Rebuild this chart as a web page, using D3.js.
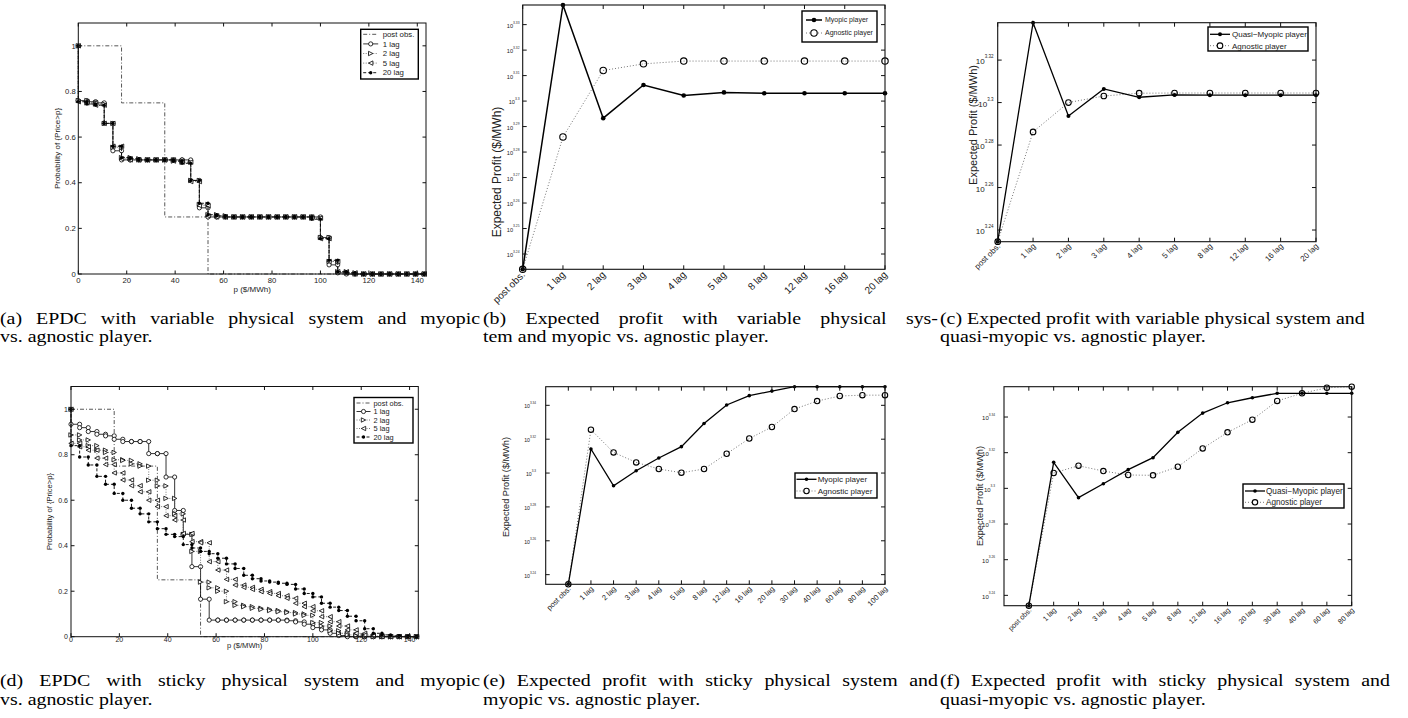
<!DOCTYPE html>
<html>
<head>
<meta charset="utf-8">
<script src="https://cdn.jsdelivr.net/npm/d3@7"></script>
<style>
  body { margin: 0; background: #fff; }
  svg text { font-family: "Liberation Sans", Arial, sans-serif; fill: #222; }
  svg text.cap { font-family: "Liberation Serif", "Times New Roman", serif; fill: #000; }
</style>
</head>
<body>
<svg id="fig" width="1408" height="718"></svg>
<script>
// ---------- data ----------

// price grid of the EPDC curves ($/MWh)
var priceGrid = [0, 3.57, 7.14, 10.71, 14.29, 17.86, 21.43, 25, 28.57, 32.14,
    35.71, 39.29, 42.86, 46.43, 50, 53.57, 57.14, 60.71, 64.29, 67.86,
    71.43, 75, 78.57, 82.14, 85.71, 89.29, 92.86, 96.43, 100, 103.57,
    107.14, 110.71, 114.29, 117.86, 121.43, 125, 128.57, 132.14, 135.71, 139.29,
    142.86];

// P(Price > p), same post-observation curve in (a) and (d)
var postObs = [1, 1, 1, 1, 1, 0.75, 0.75, 0.75, 0.75, 0.75,
    0.25, 0.25, 0.25, 0.25, 0.25, 0, 0, 0, 0, 0,
    0, 0, 0, 0, 0, 0, 0, 0, 0, 0,
    0, 0, 0, 0, 0, 0, 0, 0, 0, 0, 0];

// (a) variable physical system
var lag1A = [0.76, 0.755, 0.75, 0.66, 0.54, 0.50, 0.50, 0.50, 0.50, 0.50,
    0.50, 0.50, 0.50, 0.41, 0.29, 0.25, 0.25, 0.25, 0.25, 0.25,
    0.25, 0.25, 0.25, 0.25, 0.25, 0.25, 0.25, 0.25, 0.16, 0.04,
    0.005, 0, 0, 0, 0, 0, 0, 0, 0, 0, 0];
var lag2A = [0.76, 0.75, 0.745, 0.66, 0.555, 0.51, 0.505, 0.50, 0.50, 0.50,
    0.50, 0.495, 0.49, 0.41, 0.305, 0.26, 0.255, 0.25, 0.25, 0.25,
    0.25, 0.25, 0.25, 0.25, 0.25, 0.25, 0.25, 0.245, 0.16, 0.055,
    0.01, 0.005, 0, 0, 0, 0, 0, 0, 0, 0, 0];
var lag5A = [0.755, 0.75, 0.74, 0.66, 0.56, 0.505, 0.50, 0.50, 0.50, 0.50,
    0.50, 0.495, 0.49, 0.405, 0.30, 0.255, 0.25, 0.25, 0.25, 0.25,
    0.25, 0.25, 0.25, 0.25, 0.25, 0.25, 0.25, 0.245, 0.155, 0.055,
    0.01, 0.005, 0, 0, 0, 0, 0, 0, 0, 0, 0];
var lag20A = [0.755, 0.745, 0.74, 0.66, 0.56, 0.51, 0.505, 0.50, 0.50, 0.50,
    0.50, 0.495, 0.485, 0.41, 0.31, 0.26, 0.255, 0.25, 0.25, 0.25,
    0.25, 0.25, 0.25, 0.25, 0.25, 0.25, 0.25, 0.24, 0.155, 0.06,
    0.01, 0.005, 0, 0, 0, 0, 0, 0, 0, 0, 0];

// (d) sticky physical system
var lag1D = [0.934, 0.919, 0.902, 0.89, 0.883, 0.868, 0.858, 0.858, 0.858, 0.805,
    0.805, 0.702, 0.555, 0.45, 0.308, 0.165, 0.073, 0.073, 0.073, 0.073,
    0.073, 0.073, 0.073, 0.073, 0.073, 0.07, 0.065, 0.055, 0.04, 0.03,
    0.015, 0.005, 0, 0, 0, 0, 0, 0, 0, 0, 0];
var lag2D = [0.887, 0.865, 0.84, 0.82, 0.81, 0.778, 0.775, 0.76, 0.75, 0.688,
    0.663, 0.608, 0.54, 0.45, 0.375, 0.24, 0.215, 0.2, 0.154, 0.138,
    0.132, 0.125, 0.12, 0.115, 0.11, 0.106, 0.1, 0.094, 0.062, 0.047,
    0.026, 0.015, 0.008, 0.004, 0.002, 0, 0, 0, 0, 0, 0];
var lag5D = [0.85, 0.835, 0.82, 0.785, 0.757, 0.72, 0.689, 0.664, 0.637, 0.6,
    0.572, 0.532, 0.513, 0.454, 0.418, 0.413, 0.33, 0.293, 0.252, 0.227,
    0.217, 0.208, 0.198, 0.19, 0.18, 0.169, 0.147, 0.132, 0.114, 0.088,
    0.066, 0.047, 0.03, 0.015, 0.007, 0.003, 0, 0, 0, 0, 0];
var lag20D = [0.84, 0.79, 0.755, 0.705, 0.67, 0.63, 0.6, 0.565, 0.54, 0.505,
    0.475, 0.45, 0.44, 0.405, 0.39, 0.375, 0.365, 0.345, 0.32, 0.3,
    0.27, 0.255, 0.245, 0.24, 0.235, 0.23, 0.21, 0.19, 0.175, 0.147,
    0.13, 0.115, 0.09, 0.07, 0.035, 0.015, 0.008, 0.004, 0.002, 0.001, 0];

var epdcXTicks = [0, 20, 40, 60, 80, 100, 120, 140];
var epdcYTicks = [0, 0.2, 0.4, 0.6, 0.8, 1];
var epdcYLabels = ["0", "0.2", "0.4", "0.6", "0.8", "1"];
var epdcLegend = ["post obs.", "1 lag", "2 lag", "5 lag", "20 lag"];

// expected profit, stored as log10 of $/MWh
var catsShort = ["post obs.", "1 lag", "2 lag", "3 lag", "4 lag", "5 lag", "8 lag", "12 lag", "16 lag", "20 lag"];
var catsF = ["post obs.", "1 lag", "2 lag", "3 lag", "4 lag", "5 lag", "8 lag", "12 lag", "16 lag", "20 lag",
    "30 lag", "40 lag", "60 lag", "80 lag"];
var catsE = ["post obs.", "1 lag", "2 lag", "3 lag", "4 lag", "5 lag", "8 lag", "12 lag", "16 lag", "20 lag",
    "30 lag", "40 lag", "60 lag", "80 lag", "100 lag"];

var myopicB = [3.234, 3.3377, 3.2933, 3.3063, 3.3022, 3.3034, 3.3031, 3.3031, 3.3031, 3.3031];
var agnosticB = [3.234, 3.2859, 3.312, 3.3146, 3.3157, 3.3157, 3.3157, 3.3157, 3.3157, 3.3157];

var quasiC = [3.2345, 3.3376, 3.2937, 3.3064, 3.3025, 3.3036, 3.3035, 3.3035, 3.3035, 3.3035];
var agnosticC = [3.2345, 3.2862, 3.30, 3.3031, 3.3044, 3.3045, 3.3045, 3.3045, 3.3045, 3.3045];

var myopicE = [3.2343, 3.3142, 3.2925, 3.3014, 3.3089, 3.3156, 3.3293, 3.3402, 3.3457, 3.3484,
    3.351, 3.351, 3.351, 3.351, 3.351];
var agnosticE = [3.2343, 3.3256, 3.3122, 3.3063, 3.3024, 3.3002, 3.3024, 3.3114, 3.3204, 3.3272,
    3.3378, 3.3425, 3.3455, 3.346, 3.346];

var quasiF = [3.2342, 3.3146, 3.2948, 3.3026, 3.3105, 3.3172, 3.3314, 3.3422, 3.348, 3.3508,
    3.3533, 3.3533, 3.3533, 3.3533];
var agnosticF = [3.2342, 3.3086, 3.3127, 3.3097, 3.3075, 3.3073, 3.3121, 3.3224, 3.3314, 3.3385,
    3.349, 3.3533, 3.3564, 3.357];

var expTicksB = [3.24, 3.25, 3.26, 3.27, 3.28, 3.29, 3.3, 3.31, 3.32, 3.33];
var expTicksC = [3.24, 3.26, 3.28, 3.3, 3.32];
var expTicksEF = [3.24, 3.26, 3.28, 3.3, 3.32, 3.34];

var captions = [
    {x: 0, y: 324, w1: 480, l1: "(a) EPDC with variable physical system and myopic", l2: "vs. agnostic player."},
    {x: 483, y: 324, w1: 455, l1: "(b) Expected profit with variable physical sys-", l2: "tem and myopic vs. agnostic player."},
    {x: 940, y: 324, w1: 0, l1: "(c) Expected profit with variable physical system and", l2: "quasi-myopic vs. agnostic player."},
    {x: 0, y: 686, w1: 480, l1: "(d) EPDC with sticky physical system and myopic", l2: "vs. agnostic player."},
    {x: 483, y: 686, w1: 455, l1: "(e) Expected profit with sticky physical system and", l2: "myopic vs. agnostic player."},
    {x: 940, y: 686, w1: 450, l1: "(f) Expected profit with sticky physical system and", l2: "quasi-myopic vs. agnostic player."}
];

var svg = d3.select("#fig");

// ---------- markers ----------

function drawMarker(g, type, cx, cy, s) {
    if (type == "circle") {
        g.append("circle").attr("cx", cx).attr("cy", cy).attr("r", s)
            .attr("fill", "#fff").attr("stroke", "#000").attr("stroke-width", 0.8);
    } else if (type == "dot") {
        g.append("circle").attr("cx", cx).attr("cy", cy).attr("r", s)
            .attr("fill", "#000");
    } else if (type == "right" || type == "left") {
        var d = type == "right" ? 1 : -1;
        var pts = [[cx - d * s, cy - s], [cx + d * s, cy], [cx - d * s, cy + s]];
        g.append("path").attr("d", "M" + pts.join("L") + "Z")
            .attr("fill", "#fff").attr("stroke", "#000").attr("stroke-width", 0.8);
    }
}

var epdcStyles = [
    {dash: "4,2,1,2", color: "#444", width: 0.9, marker: null},
    {dash: null, color: "#000", width: 0.8, marker: "circle", size: 2.1},
    {dash: "1,1.5", color: "#555", width: 0.8, marker: "right", size: 2.2},
    {dash: "1,1.5", color: "#555", width: 0.8, marker: "left", size: 2.2},
    {dash: "3,2", color: "#000", width: 0.9, marker: "dot", size: 1.7}
];

// ---------- EPDC panel ----------

function epdcPanel(cfg) {
    var g = svg.append("g");
    var b = cfg.box;
    var x = d3.scaleLinear().domain([0, 143.6]).range([b.left, b.right]);
    var y = d3.scaleLinear().domain([0, 1.1]).range([b.bottom, b.top]);

    cfg.series.forEach(function(vals, si) {
        var st = epdcStyles[si];
        // stairs: vertical at each grid price, from the previous value
        var pts = [];
        var prev = 1;
        vals.forEach(function(v, k) {
            pts.push([priceGrid[k], prev]);
            pts.push([priceGrid[k], v]);
            prev = v;
        });
        g.append("path").datum(pts)
            .attr("d", d3.line().x(function(d) { return x(d[0]); }).y(function(d) { return y(d[1]); }))
            .attr("fill", "none")
            .attr("stroke", st.color)
            .attr("stroke-width", st.width)
            .attr("stroke-dasharray", st.dash);
        if (st.marker) {
            pts.forEach(function(p) { drawMarker(g, st.marker, x(p[0]), y(p[1]), st.size); });
        }
    });

    // box + inside ticks
    g.append("rect").attr("x", b.left).attr("y", b.top)
        .attr("width", b.right - b.left).attr("height", b.bottom - b.top)
        .attr("fill", "none").attr("stroke", "#111").attr("stroke-width", 1);
    var tl = 3.5;
    epdcXTicks.forEach(function(t) {
        g.append("line").attr("x1", x(t)).attr("x2", x(t)).attr("y1", b.bottom).attr("y2", b.bottom - tl).attr("stroke", "#111");
        g.append("line").attr("x1", x(t)).attr("x2", x(t)).attr("y1", b.top).attr("y2", b.top + tl).attr("stroke", "#111");
        g.append("text").attr("x", x(t)).attr("y", b.bottom + cfg.xTickDy)
            .attr("text-anchor", "middle").attr("font-size", cfg.fs).text(t);
    });
    epdcYTicks.forEach(function(t, i) {
        g.append("line").attr("x1", b.left).attr("x2", b.left + tl).attr("y1", y(t)).attr("y2", y(t)).attr("stroke", "#111");
        g.append("line").attr("x1", b.right).attr("x2", b.right - tl).attr("y1", y(t)).attr("y2", y(t)).attr("stroke", "#111");
        g.append("text").attr("x", b.left - cfg.yTickDx).attr("y", y(t) + cfg.fs * 0.35)
            .attr("text-anchor", "end").attr("font-size", cfg.fs).text(epdcYLabels[i]);
    });
    g.append("text").attr("x", (b.left + b.right) / 2).attr("y", b.bottom + cfg.xLabelDy)
        .attr("text-anchor", "middle").attr("font-size", cfg.labelFs).text("p ($/MWh)");
    g.append("text")
        .attr("transform", "translate(" + cfg.yLabelX + "," + (b.top + b.bottom) / 2 + ") rotate(-90)")
        .attr("text-anchor", "middle").attr("font-size", cfg.labelFs).text("Probability of {Price>p}");

    // legend
    var L = cfg.legend;
    g.append("rect").attr("x", L.x).attr("y", L.y).attr("width", L.w).attr("height", L.h)
        .attr("fill", "#fff").attr("stroke", "#000").attr("stroke-width", 1.4);
    epdcLegend.forEach(function(name, i) {
        var st = epdcStyles[i];
        var ly = L.y + L.first + i * L.step;
        g.append("line").attr("x1", L.x + 2.5).attr("x2", L.x + 2.5 + L.line).attr("y1", ly).attr("y2", ly)
            .attr("stroke", st.color).attr("stroke-width", st.width).attr("stroke-dasharray", st.dash);
        if (st.marker) drawMarker(g, st.marker, L.x + 2.5 + L.line / 2, ly, st.size);
        g.append("text").attr("x", L.x + L.text).attr("y", ly + L.fs * 0.35)
            .attr("font-size", L.fs).text(name);
    });
}

// ---------- expected profit panel ----------

function profitPanel(cfg) {
    var g = svg.append("g");
    if (cfg.clipLeft) {
        svg.append("clipPath").attr("id", cfg.id + "-clip").append("rect")
            .attr("x", cfg.clipLeft).attr("y", 0).attr("width", 1408).attr("height", 718);
        g.attr("clip-path", "url(#" + cfg.id + "-clip)");
    }
    var b = cfg.box;
    var x = d3.scaleLinear().domain(cfg.xDomain).range([b.left, b.right]);
    var y = d3.scaleLinear().domain(cfg.yDomain).range([b.bottom, b.top]);
    var line = d3.line().x(function(d, i) { return x(i); }).y(function(d) { return y(d); });

    g.append("path").datum(cfg.agn).attr("d", line)
        .attr("fill", "none").attr("stroke", "#777").attr("stroke-width", 1).attr("stroke-dasharray", "1,2");
    g.append("path").datum(cfg.myo).attr("d", line)
        .attr("fill", "none").attr("stroke", "#000").attr("stroke-width", cfg.lw);
    cfg.agn.forEach(function(v, i) {
        g.append("circle").attr("cx", x(i)).attr("cy", y(v)).attr("r", cfg.ringR)
            .attr("fill", "none").attr("stroke", "#000").attr("stroke-width", 1.1);
    });
    cfg.myo.forEach(function(v, i) {
        g.append("circle").attr("cx", x(i)).attr("cy", y(v)).attr("r", cfg.dotR).attr("fill", "#000");
    });

    // box + ticks
    g.append("rect").attr("x", b.left).attr("y", b.top)
        .attr("width", b.right - b.left).attr("height", b.bottom - b.top)
        .attr("fill", "none").attr("stroke", "#111").attr("stroke-width", 1.1);
    var tl = 4;
    cfg.cats.forEach(function(c, i) {
        g.append("line").attr("x1", x(i)).attr("x2", x(i)).attr("y1", b.bottom).attr("y2", b.bottom - tl).attr("stroke", "#111");
        g.append("line").attr("x1", x(i)).attr("x2", x(i)).attr("y1", b.top).attr("y2", b.top + tl).attr("stroke", "#111");
        g.append("text")
            .attr("transform", "translate(" + (x(i) + cfg.catDx) + "," + (b.bottom + cfg.catDy) + ") rotate(-45)")
            .attr("text-anchor", "end").attr("font-size", cfg.catFs).text(c);
    });
    cfg.yTicks.forEach(function(t) {
        g.append("line").attr("x1", b.left).attr("x2", b.left + tl).attr("y1", y(t)).attr("y2", y(t)).attr("stroke", "#111");
        g.append("line").attr("x1", b.right).attr("x2", b.right - tl).attr("y1", y(t)).attr("y2", y(t)).attr("stroke", "#111");
        var tx = g.append("text").attr("x", cfg.yLabEnd).attr("y", y(t) + cfg.tenFs * 0.55)
            .attr("text-anchor", "end").attr("font-size", cfg.tenFs);
        tx.append("tspan").text("10");
        tx.append("tspan").attr("dy", -cfg.tenFs * 0.75).attr("font-size", cfg.supFs).text(String(t));
    });
    g.append("text")
        .attr("transform", "translate(" + cfg.yLabelX + "," + cfg.yLabelY + ") rotate(-90)")
        .attr("text-anchor", "middle").attr("font-size", cfg.labelFs).text("Expected Profit ($/MWh)");

    // legend
    var L = cfg.legend;
    g.append("rect").attr("x", L.x).attr("y", L.y).attr("width", L.w).attr("height", L.h)
        .attr("fill", "#fff").attr("stroke", "#000").attr("stroke-width", 1.4);
    var y1 = L.y + L.first, y2 = y1 + L.step;
    var mx = L.x + L.lineX + L.line / 2;
    g.append("line").attr("x1", L.x + L.lineX).attr("x2", L.x + L.lineX + L.line).attr("y1", y1).attr("y2", y1)
        .attr("stroke", "#000").attr("stroke-width", cfg.lw);
    g.append("circle").attr("cx", mx).attr("cy", y1).attr("r", cfg.dotR).attr("fill", "#000");
    g.append("line").attr("x1", L.x + L.lineX).attr("x2", L.x + L.lineX + L.line).attr("y1", y2).attr("y2", y2)
        .attr("stroke", "#777").attr("stroke-width", 1).attr("stroke-dasharray", "1,2");
    g.append("circle").attr("cx", mx).attr("cy", y2).attr("r", cfg.ringR)
        .attr("fill", "#fff").attr("stroke", "#000").attr("stroke-width", 1.1);
    g.append("text").attr("x", L.x + L.text).attr("y", y1 + L.fs * 0.35).attr("font-size", L.fs).text(cfg.names[0]);
    g.append("text").attr("x", L.x + L.text).attr("y", y2 + L.fs * 0.35).attr("font-size", L.fs).text(cfg.names[1]);
}

// ---------- panels ----------

epdcPanel({
    box: {left: 78.3, right: 426, top: 23, bottom: 274},
    series: [postObs, lag1A, lag2A, lag5A, lag20A],
    fs: 7.7, labelFs: 8, xTickDy: 8.5, xLabelDy: 18, yTickDx: 2.5, yLabelX: 59.5,
    legend: {x: 360.7, y: 29.3, w: 57.6, h: 49.7, first: 5, step: 9.6, line: 15, text: 22, fs: 7.8}
});

epdcPanel({
    box: {left: 71, right: 418.3, top: 386.5, bottom: 636.7},
    series: [postObs, lag1D, lag2D, lag5D, lag20D],
    fs: 7, labelFs: 7.6, xTickDy: 5.6, xLabelDy: 11.5, yTickDx: 3, yLabelX: 52,
    legend: {x: 354, y: 397.5, w: 59, h: 45.5, first: 5.5, step: 8.5, line: 14, text: 19.5, fs: 7.4}
});

profitPanel({
    id: "b", clipLeft: 481,
    box: {left: 522.7, right: 885, top: 5, bottom: 269.3},
    xDomain: [0, 9], yDomain: [3.234, 3.3377],
    cats: catsShort, myo: myopicB, agn: agnosticB, yTicks: expTicksB,
    lw: 1.5, dotR: 2.3, ringR: 3.2,
    catFs: 10, catDx: 3, catDy: 6,
    tenFs: 5.6, supFs: 3.3, yLabEnd: 519.5,
    labelFs: 12, yLabelX: 501, yLabelY: 172,
    names: ["Myopic player", "Agnostic player"],
    legend: {x: 802, y: 11, w: 75, h: 31, first: 9, step: 13, lineX: 4, line: 16, text: 23, fs: 7}
});

profitPanel({
    id: "c",
    box: {left: 997.7, right: 1316, top: 22.7, bottom: 241.7},
    xDomain: [0, 9], yDomain: [3.2345, 3.3376],
    cats: catsShort, myo: quasiC, agn: agnosticC, yTicks: expTicksC,
    lw: 1.3, dotR: 2, ringR: 2.8,
    catFs: 8, catDx: 3, catDy: 5,
    tenFs: 8, supFs: 4.5, yLabEnd: 993.5,
    labelFs: 11, yLabelX: 977, yLabelY: 125,
    names: ["Quasi\u2212Myopic player", "Agnostic player"],
    legend: {x: 1208, y: 27, w: 100, h: 24, first: 7.3, step: 11.4, lineX: 2, line: 20, text: 24, fs: 8}
});

profitPanel({
    id: "e",
    box: {left: 545.7, right: 885, top: 386.7, bottom: 584.3},
    xDomain: [-1, 14], yDomain: [3.2343, 3.351],
    cats: catsE, myo: myopicE, agn: agnosticE, yTicks: expTicksEF,
    lw: 1.3, dotR: 1.8, ringR: 2.7,
    catFs: 7.5, catDx: 3, catDy: 5,
    tenFs: 5.2, supFs: 3.1, yLabEnd: 536,
    labelFs: 9.2, yLabelX: 509, yLabelY: 487,
    names: ["Myopic player", "Agnostic player"],
    legend: {x: 795, y: 473, w: 82, h: 25, first: 6.3, step: 11.7, lineX: 1.5, line: 20, text: 22.7, fs: 8}
});

profitPanel({
    id: "f",
    box: {left: 1004, right: 1351.7, top: 386.7, bottom: 605.7},
    xDomain: [-1, 13], yDomain: [3.2342, 3.357],
    cats: catsF, myo: quasiF, agn: agnosticF, yTicks: expTicksEF,
    lw: 1.3, dotR: 1.8, ringR: 2.7,
    catFs: 7.2, catDx: 3, catDy: 5,
    tenFs: 6, supFs: 3.2, yLabEnd: 995,
    labelFs: 9.2, yLabelX: 983, yLabelY: 496,
    names: ["Quasi\u2212Myopic player", "Agnostic player"],
    legend: {x: 1243, y: 484, w: 101, h: 24, first: 7, step: 11.3, lineX: 2, line: 20, text: 23, fs: 8.2}
});

// ---------- captions ----------

var capSize = 16.5, capScaleX = 1.207;

captions.forEach(function(c) {
    var g = svg.append("g").attr("transform", "translate(" + c.x + ",0) scale(" + capScaleX + ",1)");
    function word(t, xx, yy) {
        return g.append("text").attr("class", "cap").attr("x", xx).attr("y", yy)
            .attr("font-size", capSize).text(t);
    }
    if (c.w1) {
        var words = c.l1.split(" ");
        var nodes = words.map(function(w) { return word(w, 0, c.y); });
        var widths = nodes.map(function(n) { return n.node().getComputedTextLength(); });
        var gap = (c.w1 / capScaleX - d3.sum(widths)) / (words.length - 1);
        var cx = 0;
        nodes.forEach(function(n, i) { n.attr("x", cx); cx += widths[i] + gap; });
    } else {
        word(c.l1, 0, c.y);
    }
    word(c.l2, 0, c.y + (c.y > 500 ? 19 : 18));
});
</script>
</body>
</html>
